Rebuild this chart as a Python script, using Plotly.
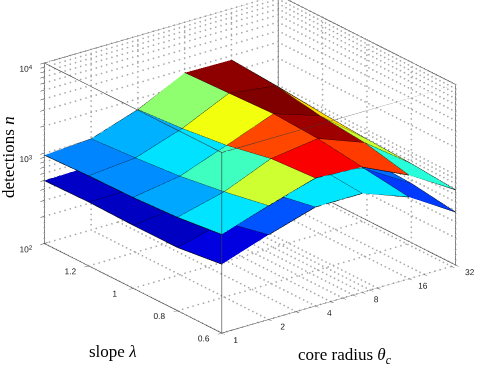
import plotly.graph_objects as go

theta = [1, 2, 4, 8, 16, 32]
slope = [0.6, 0.8, 1.0, 1.2, 1.4]

# detections, one row per slope, one column per core radius
upper_z = [
    [1236, 1820, 2600, 2440, 1400, 680],
    [1081, 1462, 2410, 2840, 1810, 750],
    [1014, 1230, 1910, 3020, 2030, 790],
    [995, 1107, 1660, 2880, 2460, 860],
    [951, 1019, 1520, 2750, 2700, 960],
]
lower_z = [
    [578, 867, 1242, 1242, 802, 385],
    [501, 673, 1000, 1361, 929, 453],
    [499, 560, 700, 1000, 950, 480],
    [510, 510, 560, 750, 850, 480],
    [497, 513, 520, 600, 700, 450],
]

theta_minor = [3, 5, 6, 7, 9, 10, 20, 30]
slope_ticks = [0.6, 0.8, 1.0, 1.2]
slope_labels = ["0.6", "0.8", "1", "1.2"]
z_major = [100, 1000, 10000]
z_minor = [200, 300, 400, 500, 600, 700, 800, 900,
           2000, 3000, 4000, 5000, 6000, 7000, 8000, 9000]

jet = [
    [0.0, "rgb(0,0,128)"],
    [0.125, "rgb(0,0,255)"],
    [0.375, "rgb(0,255,255)"],
    [0.625, "rgb(255,255,0)"],
    [0.875, "rgb(255,0,0)"],
    [1.0, "rgb(128,0,0)"],
]


def add_lines(fig, x, y, z, color, width):
    fig.add_trace(go.Scatter3d(
        x=x, y=y, z=z, mode="lines", hoverinfo="skip", showlegend=False,
        line=dict(color=color, width=width),
    ))


def add_surface(fig, z):
    # flat coloured quads, each takes the value of its first corner
    nx, ny = len(theta), len(slope)
    xs, ys, zs = [], [], []
    for r in range(ny):
        for c in range(nx):
            xs.append(theta[c])
            ys.append(slope[r])
            zs.append(z[r][c])
    i, j, k, level = [], [], [], []
    for r in range(ny - 1):
        for c in range(nx - 1):
            a = r * nx + c
            i += [a, a]
            j += [a + 1, a + nx + 1]
            k += [a + nx + 1, a + nx]
            level += [z[r][c], z[r][c]]
    fig.add_trace(go.Mesh3d(
        x=xs, y=ys, z=zs, i=i, j=j, k=k,
        intensity=level, intensitymode="cell",
        colorscale=jet, cmin=326, cmax=2920, showscale=False,
        flatshading=True, hoverinfo="skip",
        lighting=dict(ambient=1.0, diffuse=0, specular=0, roughness=1, fresnel=0),
    ))
    # black cell outlines
    lx, ly, lz = [], [], []
    for r in range(ny):
        lx += theta + [None]
        ly += [slope[r]] * nx + [None]
        lz += z[r] + [None]
    for c in range(nx):
        lx += [theta[c]] * ny + [None]
        ly += slope + [None]
        lz += [z[r][c] for r in range(ny)] + [None]
    add_lines(fig, lx, ly, lz, "black", 1.2)


def dots_between(out, p, q, n=45):
    # grid dots, evenly spaced on the log x and z scales
    for m in range(n + 1):
        f = m / n
        out[0].append(p[0] ** (1 - f) * q[0] ** f)
        out[1].append(p[1] * (1 - f) + q[1] * f)
        out[2].append(p[2] ** (1 - f) * q[2] ** f)


fig = go.Figure()

x0, x1 = theta[0], theta[-1]
y0, y1 = slope[0], slope[-1]
z0, z1 = z_major[0], z_major[-1]

# dotted grid on the floor and the two back walls
grid = ([], [], [])
for t in sorted(theta + theta_minor):
    dots_between(grid, (t, y0, z0), (t, y1, z0))
for t in theta:
    dots_between(grid, (t, y1, z0), (t, y1, z1), 35)
for s in slope_ticks:
    dots_between(grid, (x0, s, z0), (x1, s, z0))
    dots_between(grid, (x1, s, z0), (x1, s, z1), 35)
for h in z_major + z_minor:
    dots_between(grid, (x0, y1, h), (x1, y1, h))
    dots_between(grid, (x1, y1, h), (x1, y0, h))
fig.add_trace(go.Scatter3d(
    x=grid[0], y=grid[1], z=grid[2], mode="markers", hoverinfo="skip",
    marker=dict(color="#a8a8a8", size=1.0, line=dict(width=0)),
))

add_surface(fig, lower_z)
add_surface(fig, upper_z)

# box edges
bx = [x0, x1, x1, x0, x0, None, x0, x1, x1, x0, x0, None,
      x0, x0, None, x1, x1, None, x1, x1, None, x0, x0]
by = [y0, y0, y1, y1, y0, None, y0, y0, y1, y1, y0, None,
      y0, y0, None, y0, y0, None, y1, y1, None, y1, y1]
bz = [z0, z0, z0, z0, z0, None, z1, z1, z1, z1, z1, None,
      z0, z1, None, z0, z1, None, z0, z1, None, z0, z1]
add_lines(fig, bx, by, bz, "#3c3c3c", 1.2)

tick_font = dict(family="Liberation Sans", size=10, color="#222222")
common = dict(
    showgrid=False, zeroline=False, showbackground=False, showspikes=False,
    showline=False, title=dict(text=""), ticks="outside", ticklen=5,
    tickcolor="#333333", tickwidth=1, tickfont=tick_font, tickmode="array",
    tickangle=0,
)

fig.update_layout(
    width=477, height=367, autosize=False,
    margin=dict(l=0, r=0, t=0, b=0),
    paper_bgcolor="white", showlegend=False,
    scene=dict(
        domain=dict(x=[0.0, 1.0], y=[0.0, 1.0]),
        bgcolor="white",
        aspectmode="manual", aspectratio=dict(x=1.6, y=1.6, z=1.065),
        camera=dict(
            eye=dict(x=-1.005, y=-1.22, z=0.54),
            center=dict(x=-0.05, y=0.038, z=-0.115),
            up=dict(x=0, y=0, z=1),
            projection=dict(type="orthographic"),
        ),
        xaxis=dict(
            common, type="log", range=[0, 1.50515],
            tickvals=theta + theta_minor,
            ticktext=[str(t) for t in theta] + [""] * len(theta_minor),
        ),
        yaxis=dict(
            common, range=[y0, y1],
            tickvals=slope_ticks, ticktext=slope_labels,
        ),
        zaxis=dict(
            common, type="log", range=[2, 4],
            tickvals=z_major + z_minor,
            ticktext=["10<sup>2</sup>", "10<sup>3</sup>", "10<sup>4</sup>"] + [""] * len(z_minor),
        ),
    ),
    annotations=[
        dict(text="detections <i>n</i>", x=8, y=157, textangle=-90,
             font=dict(family="Liberation Serif", size=17, color="black")),
        dict(text="slope <i>λ</i>", x=113, y=351,
             font=dict(family="Liberation Serif", size=17, color="black")),
        dict(text="core radius <i>θ<sub>c</sub></i>", x=345, y=356,
             font=dict(family="Liberation Serif", size=17, color="black")),
    ],
)
for a in fig.layout.annotations:
    a.update(xref="paper", yref="paper", showarrow=False,
             x=a.x / 477, y=1 - a.y / 367, xanchor="center", yanchor="middle")

fig.write_html("out.html", config=dict(displayModeBar=False),
               post_script="document.body.style.margin='0';")
